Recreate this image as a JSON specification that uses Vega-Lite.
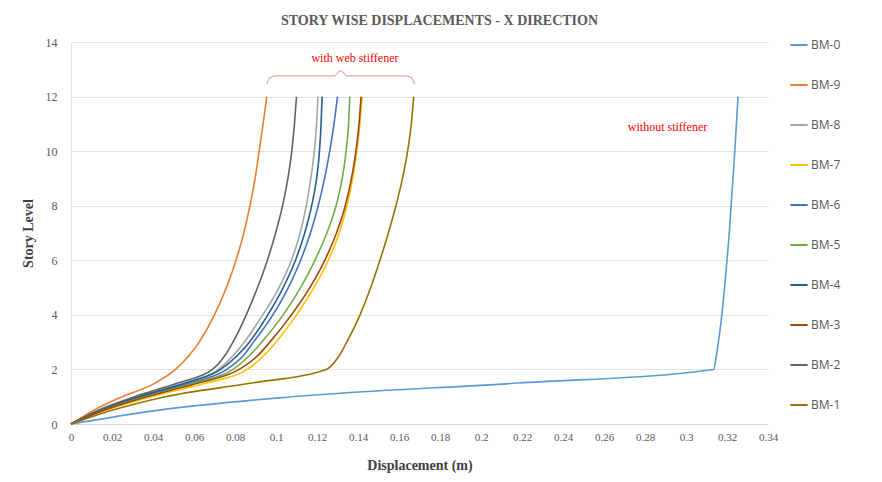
{
  "$schema": "https://vega.github.io/schema/vega-lite/v6.json",
  "width": 697,
  "height": 382,
  "autosize": "none",
  "padding": {"left": 71, "top": 42, "right": 114, "bottom": 58},
  "background": "white",
  "title": {
    "text": "STORY WISE DISPLACEMENTS - X DIRECTION",
    "font": "Liberation Serif",
    "fontSize": 14,
    "fontWeight": "bold",
    "color": "#595959",
    "anchor": "middle",
    "dx": 20,
    "offset": 7
  },
  "config": {
    "view": {"stroke": null},
    "axis": {"labelFont": "Liberation Serif", "titleFont": "Liberation Serif", "labelColor": "#595959", "titleColor": "#404040"}
  },
  "datasets": {
    "curves": [
      {"s":"BM-0","st":0,"d":0},{"s":"BM-0","st":0.5,"d":0.042},{"s":"BM-0","st":1,"d":0.108},{"s":"BM-0","st":1.5,"d":0.218},{"s":"BM-0","st":2,"d":0.3135},{"s":"BM-0","st":2.5,"d":0.3148},{"s":"BM-0","st":3,"d":0.3158},{"s":"BM-0","st":4,"d":0.3175},{"s":"BM-0","st":5,"d":0.3188},{"s":"BM-0","st":6,"d":0.32},{"s":"BM-0","st":7,"d":0.3211},{"s":"BM-0","st":8,"d":0.322},{"s":"BM-0","st":9,"d":0.3229},{"s":"BM-0","st":10,"d":0.3238},{"s":"BM-0","st":11,"d":0.3246},{"s":"BM-0","st":12,"d":0.3254},
      {"s":"BM-9","st":0,"d":0},{"s":"BM-9","st":0.5,"d":0.011},{"s":"BM-9","st":1,"d":0.025},{"s":"BM-9","st":1.5,"d":0.041},{"s":"BM-9","st":2,"d":0.051},{"s":"BM-9","st":2.5,"d":0.0575},{"s":"BM-9","st":3,"d":0.0625},{"s":"BM-9","st":4,"d":0.07},{"s":"BM-9","st":5,"d":0.0758},{"s":"BM-9","st":6,"d":0.0805},{"s":"BM-9","st":7,"d":0.0843},{"s":"BM-9","st":8,"d":0.0873},{"s":"BM-9","st":9,"d":0.0898},{"s":"BM-9","st":10,"d":0.0918},{"s":"BM-9","st":11,"d":0.0937},{"s":"BM-9","st":12,"d":0.0955},
      {"s":"BM-8","st":0,"d":0},{"s":"BM-8","st":0.5,"d":0.014},{"s":"BM-8","st":1,"d":0.033},{"s":"BM-8","st":1.5,"d":0.055},{"s":"BM-8","st":2,"d":0.072},{"s":"BM-8","st":2.5,"d":0.079},{"s":"BM-8","st":3,"d":0.0845},{"s":"BM-8","st":4,"d":0.0935},{"s":"BM-8","st":5,"d":0.1015},{"s":"BM-8","st":6,"d":0.1075},{"s":"BM-8","st":7,"d":0.1118},{"s":"BM-8","st":8,"d":0.1148},{"s":"BM-8","st":9,"d":0.117},{"s":"BM-8","st":10,"d":0.1187},{"s":"BM-8","st":11,"d":0.1198},{"s":"BM-8","st":12,"d":0.1205},
      {"s":"BM-7","st":0,"d":0},{"s":"BM-7","st":0.5,"d":0.017},{"s":"BM-7","st":1,"d":0.039},{"s":"BM-7","st":1.5,"d":0.066},{"s":"BM-7","st":2,"d":0.086},{"s":"BM-7","st":2.5,"d":0.094},{"s":"BM-7","st":3,"d":0.1},{"s":"BM-7","st":4,"d":0.11},{"s":"BM-7","st":5,"d":0.1185},{"s":"BM-7","st":6,"d":0.1255},{"s":"BM-7","st":7,"d":0.1308},{"s":"BM-7","st":8,"d":0.1346},{"s":"BM-7","st":9,"d":0.1374},{"s":"BM-7","st":10,"d":0.1394},{"s":"BM-7","st":11,"d":0.1409},{"s":"BM-7","st":12,"d":0.142},
      {"s":"BM-6","st":0,"d":0},{"s":"BM-6","st":0.5,"d":0.015},{"s":"BM-6","st":1,"d":0.034},{"s":"BM-6","st":1.5,"d":0.058},{"s":"BM-6","st":2,"d":0.076},{"s":"BM-6","st":2.5,"d":0.084},{"s":"BM-6","st":3,"d":0.089},{"s":"BM-6","st":4,"d":0.0985},{"s":"BM-6","st":5,"d":0.106},{"s":"BM-6","st":6,"d":0.112},{"s":"BM-6","st":7,"d":0.1168},{"s":"BM-6","st":8,"d":0.1206},{"s":"BM-6","st":9,"d":0.1237},{"s":"BM-6","st":10,"d":0.1262},{"s":"BM-6","st":11,"d":0.1283},{"s":"BM-6","st":12,"d":0.13},
      {"s":"BM-5","st":0,"d":0},{"s":"BM-5","st":0.5,"d":0.015},{"s":"BM-5","st":1,"d":0.035},{"s":"BM-5","st":1.5,"d":0.06},{"s":"BM-5","st":2,"d":0.079},{"s":"BM-5","st":2.5,"d":0.087},{"s":"BM-5","st":3,"d":0.093},{"s":"BM-5","st":4,"d":0.1035},{"s":"BM-5","st":5,"d":0.112},{"s":"BM-5","st":6,"d":0.119},{"s":"BM-5","st":7,"d":0.1248},{"s":"BM-5","st":8,"d":0.1293},{"s":"BM-5","st":9,"d":0.1323},{"s":"BM-5","st":10,"d":0.1342},{"s":"BM-5","st":11,"d":0.1354},{"s":"BM-5","st":12,"d":0.136},
      {"s":"BM-4","st":0,"d":0},{"s":"BM-4","st":0.5,"d":0.014},{"s":"BM-4","st":1,"d":0.033},{"s":"BM-4","st":1.5,"d":0.056},{"s":"BM-4","st":2,"d":0.073},{"s":"BM-4","st":2.5,"d":0.081},{"s":"BM-4","st":3,"d":0.087},{"s":"BM-4","st":4,"d":0.096},{"s":"BM-4","st":5,"d":0.1035},{"s":"BM-4","st":6,"d":0.1095},{"s":"BM-4","st":7,"d":0.114},{"s":"BM-4","st":8,"d":0.1174},{"s":"BM-4","st":9,"d":0.1198},{"s":"BM-4","st":10,"d":0.1212},{"s":"BM-4","st":11,"d":0.122},{"s":"BM-4","st":12,"d":0.1225},
      {"s":"BM-3","st":0,"d":0},{"s":"BM-3","st":0.5,"d":0.016},{"s":"BM-3","st":1,"d":0.037},{"s":"BM-3","st":1.5,"d":0.062},{"s":"BM-3","st":2,"d":0.082},{"s":"BM-3","st":2.5,"d":0.091},{"s":"BM-3","st":3,"d":0.097},{"s":"BM-3","st":4,"d":0.1075},{"s":"BM-3","st":5,"d":0.1165},{"s":"BM-3","st":6,"d":0.1238},{"s":"BM-3","st":7,"d":0.1295},{"s":"BM-3","st":8,"d":0.1338},{"s":"BM-3","st":9,"d":0.1368},{"s":"BM-3","st":10,"d":0.139},{"s":"BM-3","st":11,"d":0.1405},{"s":"BM-3","st":12,"d":0.1415},
      {"s":"BM-2","st":0,"d":0},{"s":"BM-2","st":0.5,"d":0.013},{"s":"BM-2","st":1,"d":0.031},{"s":"BM-2","st":1.5,"d":0.052},{"s":"BM-2","st":2,"d":0.069},{"s":"BM-2","st":2.5,"d":0.075},{"s":"BM-2","st":3,"d":0.079},{"s":"BM-2","st":4,"d":0.0855},{"s":"BM-2","st":5,"d":0.091},{"s":"BM-2","st":6,"d":0.0958},{"s":"BM-2","st":7,"d":0.0998},{"s":"BM-2","st":8,"d":0.1032},{"s":"BM-2","st":9,"d":0.1058},{"s":"BM-2","st":10,"d":0.1077},{"s":"BM-2","st":11,"d":0.109},{"s":"BM-2","st":12,"d":0.11},
      {"s":"BM-1","st":0,"d":0},{"s":"BM-1","st":0.5,"d":0.02},{"s":"BM-1","st":1,"d":0.046},{"s":"BM-1","st":1.5,"d":0.088},{"s":"BM-1","st":2,"d":0.1245},{"s":"BM-1","st":2.5,"d":0.1308},{"s":"BM-1","st":3,"d":0.1345},{"s":"BM-1","st":4,"d":0.141},{"s":"BM-1","st":5,"d":0.1462},{"s":"BM-1","st":6,"d":0.1507},{"s":"BM-1","st":7,"d":0.1548},{"s":"BM-1","st":8,"d":0.1585},{"s":"BM-1","st":9,"d":0.1617},{"s":"BM-1","st":10,"d":0.1642},{"s":"BM-1","st":11,"d":0.166},{"s":"BM-1","st":12,"d":0.1672}
    ],
    "brace": [
      {"i":0,"x":0.0955,"y":12.45},{"i":1,"x":0.0968,"y":12.68},{"i":2,"x":0.1,"y":12.76},{"i":3,"x":0.1285,"y":12.76},{"i":4,"x":0.1315,"y":12.95},{"i":5,"x":0.1345,"y":12.76},{"i":6,"x":0.163,"y":12.76},{"i":7,"x":0.1662,"y":12.68},{"i":8,"x":0.1675,"y":12.45}
    ],
    "notes": [
      {"x":0.1385,"y":13.4,"t":"with web stiffener"},
      {"x":0.291,"y":10.9,"t":"without stiffener"}
    ]
  },
  "layer": [
    {
      "data": {"name": "curves"},
      "mark": {"type": "line", "interpolate": "monotone", "strokeWidth": 1.6},
      "encoding": {
        "x": {
          "field": "d", "type": "quantitative",
          "scale": {"domain": [0, 0.34], "nice": false},
          "axis": {
            "values": [0,0.02,0.04,0.06,0.08,0.1,0.12,0.14,0.16,0.18,0.2,0.22,0.24,0.26,0.28,0.3,0.32,0.34],
            "format": ".2~f",
            "title": "Displacement (m)",
            "titleFontSize": 14, "titleFontWeight": "bold", "titlePadding": 16,
            "labelFontSize": 11, "labelPadding": 7,
            "ticks": false, "grid": false,
            "domainColor": "#D9D9D9", "labelFlush": false
          }
        },
        "y": {
          "field": "st", "type": "quantitative",
          "scale": {"domain": [0, 14], "nice": false},
          "axis": {
            "values": [0,2,4,6,8,10,12,14],
            "title": "Story Level",
            "titleFontSize": 14, "titleFontWeight": "bold", "titlePadding": 10,
            "labelFontSize": 12, "labelPadding": 14,
            "ticks": false, "grid": true, "gridColor": "#E3E3E3",
            "domainColor": "#E3E3E3"
          }
        },
        "color": {
          "field": "s", "type": "nominal",
          "scale": {
            "domain": ["BM-0","BM-9","BM-8","BM-7","BM-6","BM-5","BM-4","BM-3","BM-2","BM-1"],
            "range": ["#5B9BD5","#ED7D31","#A5A5A5","#FFC000","#4472C4","#70AD47","#255E91","#9E480E","#636363","#997300"]
          },
          "legend": {
            "title": null,
            "orient": "none",
            "legendX": 718,
            "legendY": -7,
            "symbolType": "stroke",
            "symbolStrokeWidth": 2,
            "symbolSize": 300,
            "labelFont": "Open Sans",
            "labelFontSize": 12,
            "labelColor": "#595959",
            "rowPadding": 24,
            "labelOffset": 2
          }
        },
        "order": {"field": "st", "type": "quantitative"}
      }
    },
    {
      "data": {"name": "brace"},
      "mark": {"type": "line", "color": "#E8A8A8", "strokeWidth": 1.2, "interpolate": "monotone"},
      "encoding": {
        "x": {"field": "x", "type": "quantitative"},
        "y": {"field": "y", "type": "quantitative"},
        "order": {"field": "i", "type": "quantitative"}
      }
    },
    {
      "data": {"name": "notes"},
      "mark": {"type": "text", "font": "Liberation Serif", "fontSize": 12, "color": "#FF0000", "align": "center", "baseline": "middle"},
      "encoding": {
        "x": {"field": "x", "type": "quantitative"},
        "y": {"field": "y", "type": "quantitative"},
        "text": {"field": "t"}
      }
    }
  ]
}
